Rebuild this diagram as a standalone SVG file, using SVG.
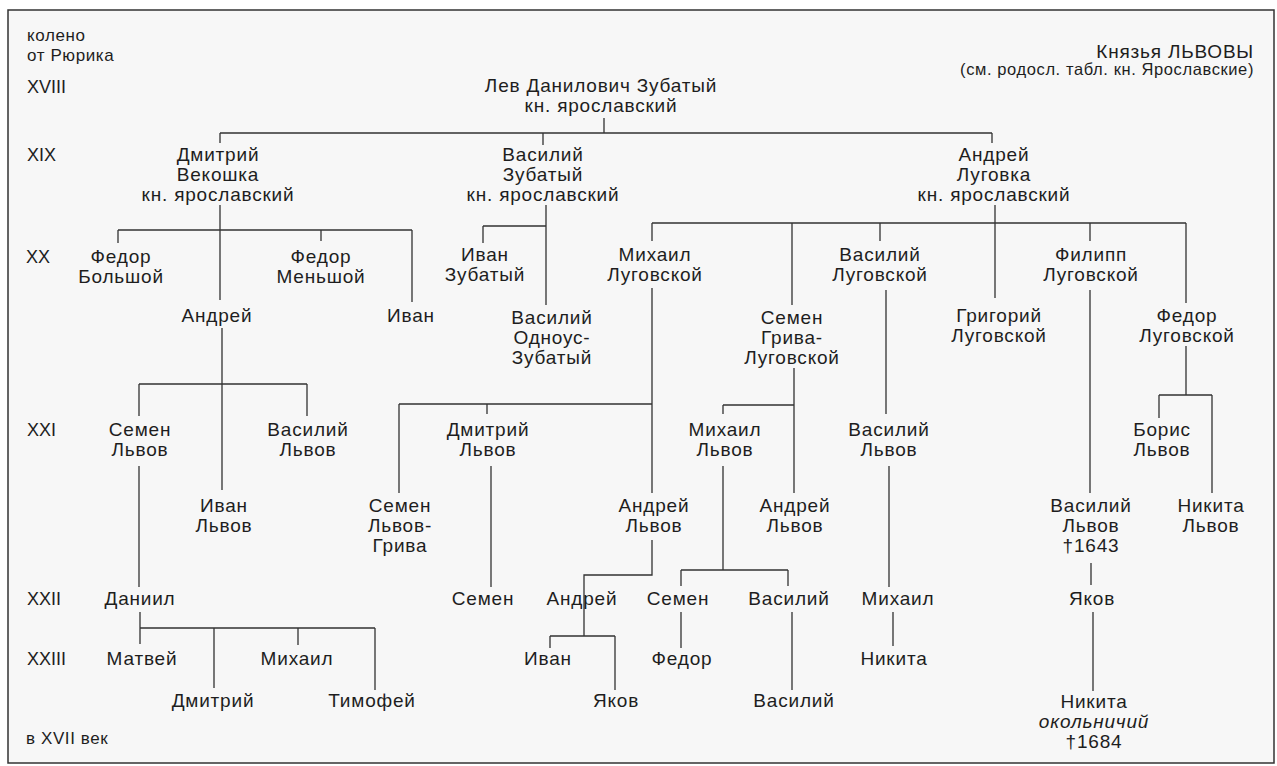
<svg xmlns="http://www.w3.org/2000/svg" width="1277" height="766" viewBox="0 0 1277 766">
<style>
text{font-family:"Liberation Sans",Arial,sans-serif;fill:#1e1e1e;}
.n{font-size:19px;text-anchor:middle;letter-spacing:0.8px;}
.lab{font-size:17px;letter-spacing:0.6px;}
.gen{font-size:18px;}
.it{font-style:italic;}
.c path{fill:none;stroke:#333;stroke-width:1.3;}
</style>
<rect x="0" y="0" width="1277" height="766" fill="#fff"/>
<rect x="8" y="10" width="1266" height="753" fill="#f7f7f7" stroke="#333" stroke-width="1.5"/>
<g id="labels">
<text class="lab" x="27" y="41">колено</text>
<text class="lab" x="27" y="61">от Рюрика</text>
<text class="gen" x="27" y="93">XVIII</text>
<text class="gen" x="27" y="161">XIX</text>
<text class="gen" x="26" y="263">XX</text>
<text class="gen" x="27" y="436">XXI</text>
<text class="gen" x="27" y="605">XXII</text>
<text class="gen" x="27" y="665">XXIII</text>
<text class="lab" x="26" y="744">в XVII век</text>
<text x="1254" y="58" style="font-size:19px;text-anchor:end;letter-spacing:0.8px">Князья ЛЬВОВЫ</text>
<text x="1254" y="75" style="font-size:16.5px;text-anchor:end;letter-spacing:0.6px">(см. родосл. табл. кн. Ярославские)</text>
</g>
<g class="c" id="connectors">
<path d="M604,118V133M220,133H992M220,133V143M543,133V145M992,133V143"/>
<path d="M220,205V300M118,230H412M118,230V243M321,230V241M412,230V302"/>
<path d="M222,328V490M139,384H307M139,384V416M307,384V416"/>
<path d="M139,466V587"/>
<path d="M140,612V628M140,628H375M140,628V644M214,628V688M298,628V645M375,628V690"/>
<path d="M546,205V305M483,226H546M483,226V243"/>
<path d="M995,205V298M652,223H1186M652,223V241M792,223V305M880,223V241M1090,223V241M1186,223V303"/>
<path d="M652,288V493M399,404H652M399,404V493M487,404V414"/>
<path d="M491,466V587"/>
<path d="M652,540V575H584V636M550,636H615M550,636V648M615,636V690"/>
<path d="M794,368V493M723,405H794M723,405V414"/>
<path d="M723,466V570M681,570H788M681,570V586M788,570V586"/>
<path d="M681,612V648M792,612V690"/>
<path d="M886,290V414M889,466V587M893,612V646"/>
<path d="M1090,290V493M1091,563V585M1093,612V691"/>
<path d="M1186,346V395M1159,395H1212M1159,395V418M1212,395V493"/>
</g>
<g id="lev"><text class="n" x="601" y="92">Лев Данилович Зубатый<tspan x="601" dy="20">кн. ярославский</tspan></text></g>
<g id="dmitry_vekoshka"><text class="n" x="218" y="161">Дмитрий<tspan x="218" dy="20">Векошка</tspan><tspan x="218" dy="20">кн. ярославский</tspan></text></g>
<g id="vasily_zubaty"><text class="n" x="543" y="161">Василий<tspan x="543" dy="20">Зубатый</tspan><tspan x="543" dy="20">кн. ярославский</tspan></text></g>
<g id="andrey_lugovka"><text class="n" x="994" y="161">Андрей<tspan x="994" dy="20">Луговка</tspan><tspan x="994" dy="20">кн. ярославский</tspan></text></g>
<g id="fedor_bolshoy"><text class="n" x="121" y="263">Федор<tspan x="121" dy="20">Большой</tspan></text></g>
<g id="fedor_menshoy"><text class="n" x="321" y="263">Федор<tspan x="321" dy="20">Меньшой</tspan></text></g>
<g id="andrey_d"><text class="n" x="217" y="322">Андрей</text></g>
<g id="ivan_d"><text class="n" x="411" y="322">Иван</text></g>
<g id="ivan_zubaty"><text class="n" x="485" y="261">Иван<tspan x="485" dy="20">Зубатый</tspan></text></g>
<g id="vasily_odnous"><text class="n" x="552" y="324">Василий<tspan x="552" dy="20">Одноус-</tspan><tspan x="552" dy="20">Зубатый</tspan></text></g>
<g id="mikhail_lug"><text class="n" x="655" y="261">Михаил<tspan x="655" dy="20">Луговской</tspan></text></g>
<g id="semen_griva_lug"><text class="n" x="792" y="324">Семен<tspan x="792" dy="20">Грива-</tspan><tspan x="792" dy="20">Луговской</tspan></text></g>
<g id="vasily_lug"><text class="n" x="880" y="261">Василий<tspan x="880" dy="20">Луговской</tspan></text></g>
<g id="grigory_lug"><text class="n" x="999" y="322">Григорий<tspan x="999" dy="20">Луговской</tspan></text></g>
<g id="filipp_lug"><text class="n" x="1091" y="261">Филипп<tspan x="1091" dy="20">Луговской</tspan></text></g>
<g id="fedor_lug"><text class="n" x="1187" y="322">Федор<tspan x="1187" dy="20">Луговской</tspan></text></g>
<g id="semen_lvov"><text class="n" x="140" y="436">Семен<tspan x="140" dy="20">Львов</tspan></text></g>
<g id="vasily_lvov_a"><text class="n" x="308" y="436">Василий<tspan x="308" dy="20">Львов</tspan></text></g>
<g id="ivan_lvov"><text class="n" x="224" y="512">Иван<tspan x="224" dy="20">Львов</tspan></text></g>
<g id="semen_lvov_griva"><text class="n" x="400" y="512">Семен<tspan x="400" dy="20">Львов-</tspan><tspan x="400" dy="20">Грива</tspan></text></g>
<g id="dmitry_lvov"><text class="n" x="488" y="436">Дмитрий<tspan x="488" dy="20">Львов</tspan></text></g>
<g id="andrey_lvov_m"><text class="n" x="654" y="512">Андрей<tspan x="654" dy="20">Львов</tspan></text></g>
<g id="mikhail_lvov"><text class="n" x="725" y="436">Михаил<tspan x="725" dy="20">Львов</tspan></text></g>
<g id="andrey_lvov_s"><text class="n" x="795" y="512">Андрей<tspan x="795" dy="20">Львов</tspan></text></g>
<g id="vasily_lvov_v"><text class="n" x="889" y="436">Василий<tspan x="889" dy="20">Львов</tspan></text></g>
<g id="boris_lvov"><text class="n" x="1162" y="436">Борис<tspan x="1162" dy="20">Львов</tspan></text></g>
<g id="vasily_lvov_1643"><text class="n" x="1091" y="512">Василий<tspan x="1091" dy="20">Львов</tspan><tspan x="1091" dy="20">†1643</tspan></text></g>
<g id="nikita_lvov"><text class="n" x="1211" y="512">Никита<tspan x="1211" dy="20">Львов</tspan></text></g>
<g id="daniil"><text class="n" x="140" y="605">Даниил</text></g>
<g id="semen_d"><text class="n" x="483" y="605">Семен</text></g>
<g id="andrey_x"><text class="n" x="582" y="605">Андрей</text></g>
<g id="semen_m"><text class="n" x="678" y="605">Семен</text></g>
<g id="vasily_m"><text class="n" x="789" y="605">Василий</text></g>
<g id="mikhail_v"><text class="n" x="898" y="605">Михаил</text></g>
<g id="yakov_f"><text class="n" x="1092" y="605">Яков</text></g>
<g id="matvey"><text class="n" x="142" y="665">Матвей</text></g>
<g id="mikhail_dn"><text class="n" x="297" y="665">Михаил</text></g>
<g id="ivan_a"><text class="n" x="548" y="665">Иван</text></g>
<g id="fedor_s"><text class="n" x="682" y="665">Федор</text></g>
<g id="nikita_m"><text class="n" x="894" y="665">Никита</text></g>
<g id="dmitry_dn"><text class="n" x="213" y="707">Дмитрий</text></g>
<g id="timofey"><text class="n" x="372" y="707">Тимофей</text></g>
<g id="yakov_a"><text class="n" x="616" y="707">Яков</text></g>
<g id="vasily_v"><text class="n" x="794" y="707">Василий</text></g>
<g id="nikita_okol"><text class="n" x="1094" y="708">Никита<tspan x="1094" dy="20" class="it">окольничий</tspan><tspan x="1094" dy="20">†1684</tspan></text></g>
</svg>
